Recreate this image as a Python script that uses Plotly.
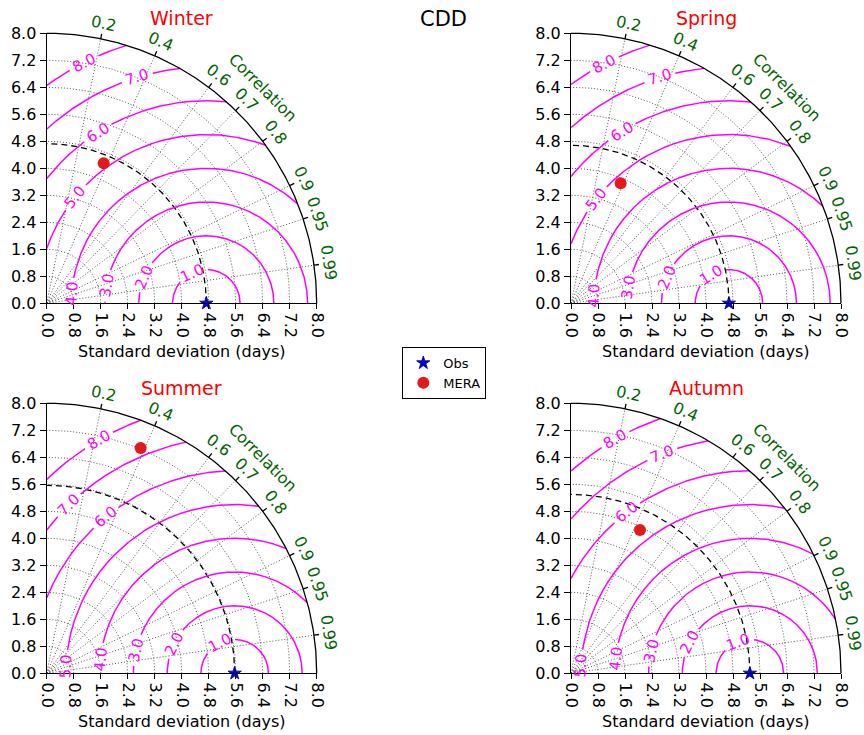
import numpy as np
import plotly.graph_objects as go

# ---------------- data ----------------
seasons = ["Winter", "Spring", "Summer", "Autumn"]
obs_std = [4.73, 4.68, 5.57, 5.30]          # reference (Obs) standard deviation
mera_std = [4.48, 3.85, 7.23, 4.71]         # MERA standard deviation
mera_corr = [0.377, 0.382, 0.385, 0.434]    # MERA correlation with Obs
rms_levels = [1.0, 2.0, 3.0, 4.0, 5.0, 6.0, 7.0, 8.0]
corr_ticks = [0.2, 0.4, 0.6, 0.7, 0.8, 0.9, 0.95, 0.99]
std_ticks = [0.0, 0.8, 1.6, 2.4, 3.2, 4.0, 4.8, 5.6, 6.4, 7.2, 8.0]
std_max = 8.0
title = "CDD"
xlabel = "Standard deviation (days)"

# ---------------- layout helpers (positions / styles) ----------------
W, H = 864, 735
S = 270.0 / std_max                      # px per data unit
origins = [(46.7, 303.3), (571.0, 303.3), (46.7, 673.3), (571.0, 673.3)]
PAD_L, PAD_B, PAD_R, PAD_T = 12.0, 12.0, 22.0, 30.0
FONT = "DejaVu Sans"
MAGENTA = "#ff00ff"
GREEN = "#006400"
FS = 16

# angle (deg) along each RMS circle where its inline label sits
label_phi = [
    [114.5, 157.0, 170.0, 176.0, 141.0, 122.5, 107.0, 117.0],
    [122.0, 157.7, 171.0, 176.6, 141.8, 122.0, 107.0, 117.5],
    [116.6, 154.0, 166.7, 173.8, 177.6, 129.6, 134.6, 120.2],
    [110.0, 152.7, 167.0, 173.8, 177.3, 127.4, 111.8, 119.9],
]

fig = go.Figure()
annotations = []
layout_axes = {}


def axid(n):
    return "" if n == 1 else str(n)


for i, season in enumerate(seasons):
    ox, oy = origins[i]
    nb = 2 * i + 1   # big (decoration) axes
    nv = 2 * i + 2   # visible axes
    xb, yb = "x" + axid(nb), "y" + axid(nb)
    xv, yv = "x" + axid(nv), "y" + axid(nv)

    # big invisible axes with same scale
    layout_axes["xaxis" + axid(nb)] = dict(
        domain=[(ox - PAD_L) / W, (ox + 270 + PAD_R) / W],
        range=[-PAD_L / S, std_max + PAD_R / S], visible=False,
        anchor=yb, fixedrange=True, automargin=False)
    layout_axes["yaxis" + axid(nb)] = dict(
        domain=[1 - (oy + PAD_B) / H, 1 - (oy - 270 - PAD_T) / H],
        range=[-PAD_B / S, std_max + PAD_T / S], visible=False,
        anchor=xb, fixedrange=True, automargin=False)
    # visible axes
    tick_text = ["%.1f" % v for v in std_ticks]
    layout_axes["xaxis" + axid(nv)] = dict(
        domain=[ox / W, (ox + 270) / W], range=[0, std_max], anchor=yv,
        tickmode="array", tickvals=std_ticks, ticktext=tick_text, tickangle=90,
        ticks="outside", ticklen=5, tickwidth=1, tickcolor="black",
        showline=True, linecolor="black", linewidth=1.2, showgrid=False,
        zeroline=False, tickfont=dict(family=FONT, size=FS, color="black"),
        fixedrange=True, automargin=False)
    layout_axes["yaxis" + axid(nv)] = dict(
        domain=[1 - oy / H, 1 - (oy - 270) / H], range=[0, std_max], anchor=xv,
        tickmode="array", tickvals=std_ticks, ticktext=tick_text,
        ticks="outside", ticklen=6, tickwidth=1, tickcolor="black",
        showline=True, linecolor="black", linewidth=1.2, showgrid=False,
        zeroline=False, tickfont=dict(family=FONT, size=FS, color="black"),
        fixedrange=True, automargin=False)

    ref = obs_std[i]

    # ---- dotted grid: std arcs + correlation rays ----
    gx, gy = [], []
    th = np.linspace(0, np.pi / 2, 200)
    for r in std_ticks[1:-1]:
        gx += list(r * np.cos(th)) + [None]
        gy += list(r * np.sin(th)) + [None]
    for c in corr_ticks:
        t = np.arccos(c)
        gx += [0, std_max * np.cos(t), None]
        gy += [0, std_max * np.sin(t), None]
    fig.add_trace(go.Scatter(x=gx, y=gy, mode="lines", xaxis=xb, yaxis=yb,
                             line=dict(color="#444444", width=0.9, dash="1px,2px"),
                             showlegend=False, hoverinfo="skip"))

    # ---- reference dashed arc ----
    fig.add_trace(go.Scatter(x=ref * np.cos(th), y=ref * np.sin(th), mode="lines",
                             xaxis=xb, yaxis=yb,
                             line=dict(color="black", width=1.3, dash="6px,4px"),
                             showlegend=False, hoverinfo="skip"))

    # ---- RMS contours (magenta) with gaps for labels ----
    phi = np.linspace(0, np.pi, 3000)
    cx, cy = [], []
    for k, R in enumerate(rms_levels):
        px = ref + R * np.cos(phi)
        py = R * np.sin(phi)
        lp = np.deg2rad(label_phi[i][k])
        half = 16.0 / (R * S)
        ok = (px >= 0) & (px ** 2 + py ** 2 <= std_max ** 2) & (np.abs(phi - lp) > half)
        prev = False
        for a, b, o in zip(px, py, ok):
            if o:
                cx.append(a); cy.append(b)
            elif prev:
                cx.append(None); cy.append(None)
            prev = o
        cx.append(None); cy.append(None)
        # label
        lx = ref + R * np.cos(lp)
        ly = R * np.sin(lp)
        ang = np.rad2deg(lp) + 90.0
        while ang > 90:
            ang -= 180
        while ang <= -90:
            ang += 180
        annotations.append(dict(x=lx, y=ly, xref=xb, yref=yb, text="%.1f" % R,
                                showarrow=False, textangle=-ang,
                                xanchor="center", yanchor="middle",
                                font=dict(family=FONT, size=FS - 1, color=MAGENTA)))
    fig.add_trace(go.Scatter(x=cx, y=cy, mode="lines", xaxis=xb, yaxis=yb,
                             line=dict(color=MAGENTA, width=1.5),
                             showlegend=False, hoverinfo="skip"))

    # ---- outer arc and its outward ticks ----
    ax_, ay_ = list(std_max * np.cos(th)), list(std_max * np.sin(th))
    ax_.append(None); ay_.append(None)
    for c in corr_ticks:
        t = np.arccos(c)
        ax_ += [std_max * np.cos(t), (std_max + 5 / S) * np.cos(t), None]
        ay_ += [std_max * np.sin(t), (std_max + 5 / S) * np.sin(t), None]
        annotations.append(dict(x=8.46 * np.cos(t), y=8.46 * np.sin(t), xref=xb, yref=yb,
                                text=("%g" % c), showarrow=False,
                                textangle=90 - np.rad2deg(t),
                                xanchor="center", yanchor="middle",
                                font=dict(family=FONT, size=FS, color=GREEN)))
    fig.add_trace(go.Scatter(x=ax_, y=ay_, mode="lines", xaxis=xb, yaxis=yb,
                             line=dict(color="black", width=1.3),
                             showlegend=False, hoverinfo="skip"))
    annotations.append(dict(x=9.06 * np.cos(np.pi / 4), y=9.06 * np.sin(np.pi / 4),
                            xref=xb, yref=yb, text="Correlation", showarrow=False,
                            textangle=45, xanchor="center", yanchor="middle",
                            font=dict(family=FONT, size=FS, color=GREEN)))

    # ---- points ----
    fig.add_trace(go.Scatter(x=[ref], y=[0], mode="markers", xaxis=xv, yaxis=yv,
                             name="Obs", showlegend=(i == 0), cliponaxis=False,
                             marker=dict(symbol="star", size=10, color="#0000ee",
                                         line=dict(color="#000060", width=0.8))))
    t = np.arccos(mera_corr[i])
    fig.add_trace(go.Scatter(x=[mera_std[i] * np.cos(t)], y=[mera_std[i] * np.sin(t)],
                             mode="markers", xaxis=xv, yaxis=yv,
                             name="MERA", showlegend=(i == 0), cliponaxis=False,
                             marker=dict(symbol="circle", size=12, color="#e31a1c",
                                         line=dict(width=0))))

    # ---- titles ----
    cxp = (ox + 135) / W
    annotations.append(dict(x=cxp, y=1 - (oy - 285) / H, xref="paper", yref="paper",
                            text=season, showarrow=False, xanchor="center", yanchor="middle",
                            font=dict(family=FONT, size=19, color="red")))
    annotations.append(dict(x=cxp, y=1 - (oy + 48.4) / H, xref="paper", yref="paper",
                            text=xlabel, showarrow=False, xanchor="center", yanchor="middle",
                            font=dict(family=FONT, size=FS, color="black")))

annotations.append(dict(x=443.3 / W, y=1 - 18.8 / H, xref="paper", yref="paper",
                        text=title, showarrow=False, xanchor="center", yanchor="middle",
                        font=dict(family=FONT, size=21, color="black")))

fig.update_layout(
    width=W, height=H, autosize=False,
    margin=dict(l=0, r=0, t=0, b=0, pad=0),
    paper_bgcolor="white", plot_bgcolor="rgba(0,0,0,0)",
    font=dict(family=FONT, size=14, color="black"),
    annotations=annotations,
    legend=dict(x=402.3 / W, y=1 - 347 / H, xanchor="left", yanchor="top",
                bgcolor="white", bordercolor="black", borderwidth=1,
                font=dict(family=FONT, size=13, color="black"), tracegroupgap=0),
    **layout_axes,
)

fig.write_html("out.html")
